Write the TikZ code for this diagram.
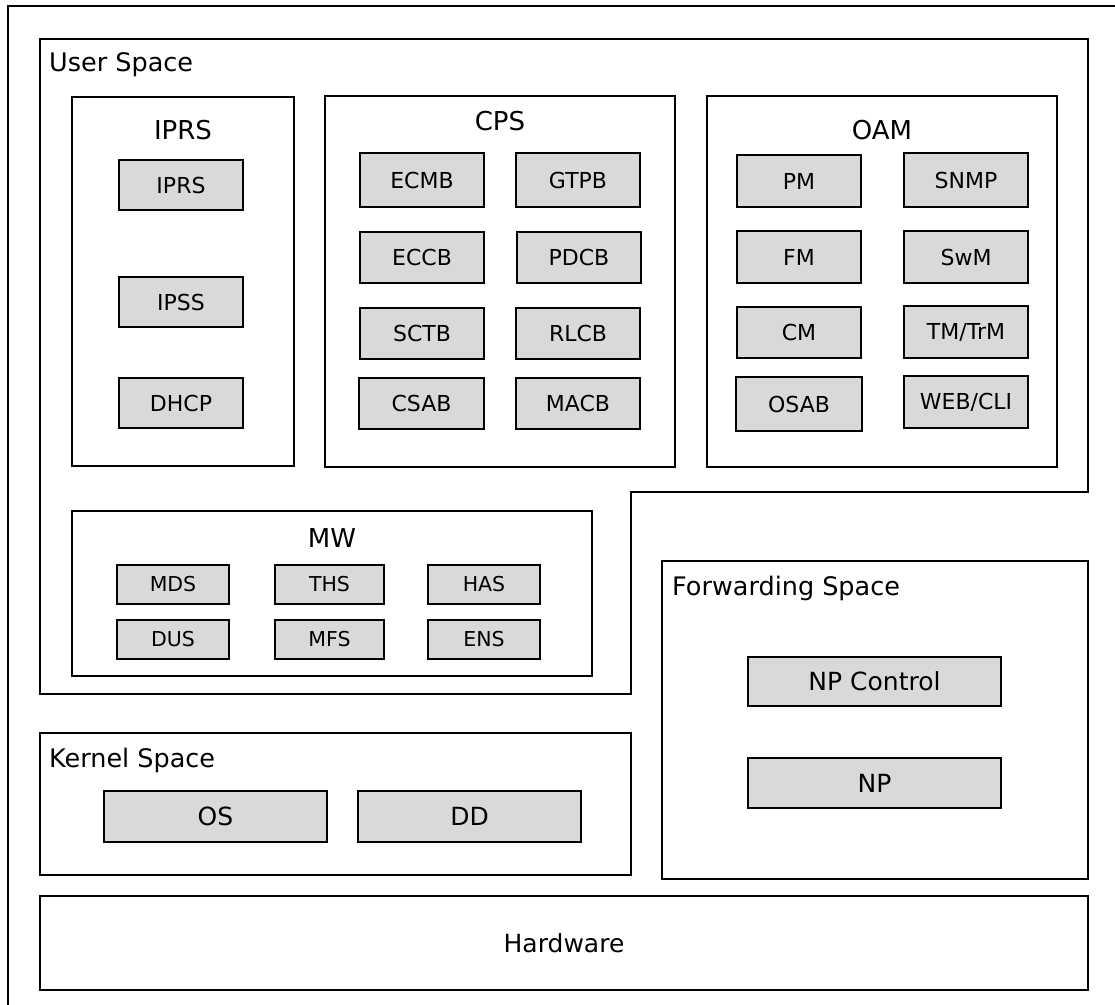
\documentclass[tikz,border=0pt]{standalone}
\usepackage{fontspec}
\setmainfont{DejaVu Sans}
\newcommand\gb[7][gbox]{\node[#1,minimum width={(#5)-(#3)},minimum height={(#6)-(#4)}] (#2) at ({((#3)+(#5))/2},{((#4)+(#6))/2}) {#7};}
\tikzset{
  frame/.style={draw=black,line width=1.2pt},
  gbox/.style={draw=black,line width=1.2pt,fill=boxgray,inner sep=0pt,font=\fontsize{22}{26}\selectfont},
  sbox/.style={gbox,font=\fontsize{20.5}{24}\selectfont},
  kbox/.style={gbox,font=\fontsize{25}{28}\selectfont},
  wbox/.style={draw=black,line width=1.2pt,inner sep=0pt},
  lbl/.style={anchor=base west,inner sep=0pt,font=\fontsize{25.5}{28}\selectfont},
  ttl/.style={anchor=base,inner sep=0pt,font=\fontsize{26}{30}\selectfont},
}
\definecolor{boxgray}{HTML}{D9D9D9}
\begin{document}
\begin{tikzpicture}[x=1pt,y=-1pt]
\useasboundingbox (0,0) rectangle (1115,1004);
\clip (0,0) rectangle (1115,1004);
\fill[white] (0,0) rectangle (1115,1004);
% outer frame
\draw[frame] (8,6) rectangle (1130,1020);
% user space
\draw[frame] (40,39) -- (1088,39) -- (1088,492) -- (631,492) -- (631,694) -- (40,694) -- cycle;
\node[lbl] (us) at (49,71) {User Space};
% IPRS group
\gb[wbox]{iprsg}{72}{97}{294}{466}{}
\node[ttl] (iprst) at (183,139) {IPRS};
\gb{iprs}{119}{160}{243}{210}{IPRS}
\gb{ipss}{119}{277}{243}{327}{IPSS}
\gb{dhcp}{119}{378}{243}{428}{DHCP}
% CPS group
\gb[wbox]{cpsg}{325}{96}{675}{467}{}
\node[ttl] (cpst) at (500,130) {CPS};
\gb{ecmb}{360}{153}{484}{207}{ECMB}
\gb{gtpb}{516}{153}{640}{207}{GTPB}
\gb{eccb}{360}{232}{484}{283}{ECCB}
\gb{pdcb}{517}{232}{641}{283}{PDCB}
\gb{sctb}{360}{308}{484}{359}{SCTB}
\gb{rlcb}{516}{308}{640}{359}{RLCB}
\gb{csab}{359}{378}{484}{429}{CSAB}
\gb{macb}{516}{378}{640}{429}{MACB}
% OAM group
\gb[wbox]{oamg}{707}{96}{1057}{467}{}
\node[ttl] (oamt) at (882,139) {OAM};
\gb{pm}{737}{155}{861}{207}{PM}
\gb{snmp}{904}{153}{1028}{207}{SNMP}
\gb{fm}{737}{231}{861}{283}{FM}
\gb{swm}{904}{231}{1028}{283}{SwM}
\gb{cm}{737}{307}{861}{358}{CM}
\gb{tm}{904}{306}{1028}{358}{TM/TrM}
\gb{osab}{736}{377}{862}{431}{OSAB}
\gb{web}{904}{376}{1028}{428}{WEB/CLI}
% MW group
\gb[wbox]{mwg}{72}{511}{592}{676}{}
\node[ttl] (mwt) at (332,547) {MW};
\gb[sbox]{mds}{117}{565}{229}{604}{MDS}
\gb[sbox]{ths}{275}{565}{384}{604}{THS}
\gb[sbox]{has}{428}{565}{540}{604}{HAS}
\gb[sbox]{dus}{117}{620}{229}{659}{DUS}
\gb[sbox]{mfs}{275}{620}{384}{659}{MFS}
\gb[sbox]{ens}{428}{620}{540}{659}{ENS}
% Forwarding space
\gb[wbox]{fwd}{662}{561}{1088}{879}{}
\node[lbl] (fwdl) at (672,595) {Forwarding Space};
\gb[kbox]{npc}{748}{657}{1001}{706}{NP Control}
\gb[kbox]{np}{748}{758}{1001}{808}{NP}
% Kernel space
\gb[wbox]{ker}{40}{733}{631}{875}{}
\node[lbl] (kerl) at (49,767) {Kernel Space};
\gb[kbox]{os}{104}{791}{327}{842}{OS}
\gb[kbox]{dd}{358}{791}{581}{842}{DD}
% Hardware
\gb[wbox,font=\fontsize{25}{28}\selectfont]{hw}{40}{896}{1088}{990}{Hardware}
\end{tikzpicture}
\end{document}
